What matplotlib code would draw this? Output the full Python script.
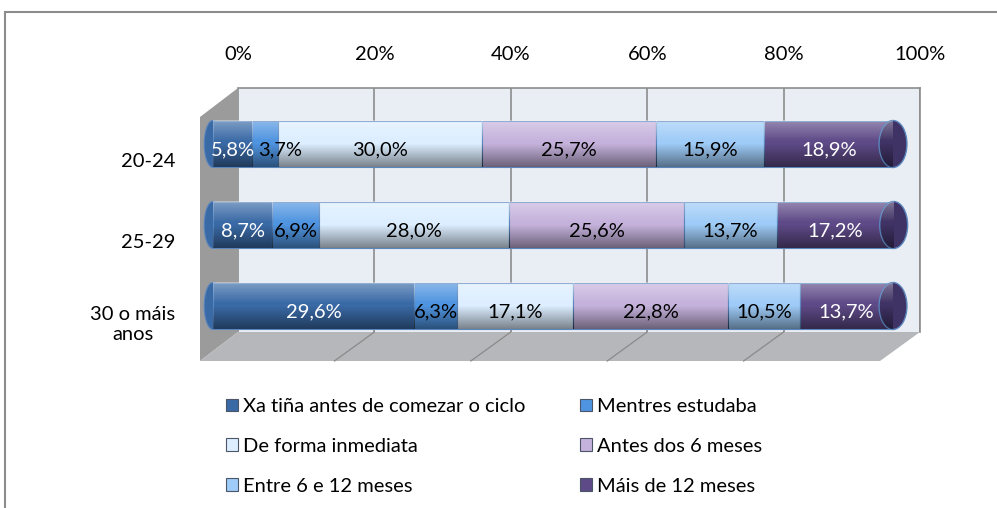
import numpy as np
import matplotlib
matplotlib.use('Agg')
import matplotlib.pyplot as plt
from matplotlib.patches import Ellipse, Polygon, Rectangle, Patch
from matplotlib.lines import Line2D
from matplotlib.transforms import offset_copy, ScaledTranslation, Affine2D

plt.rcParams['font.family'] = ['Lato', 'DejaVu Sans']

groups = ['20-24', '25-29', '30 o máis\nanos']
series = ['Xa tiña antes de comezar o ciclo', 'Mentres estudaba', 'De forma inmediata',
          'Antes dos 6 meses', 'Entre 6 e 12 meses', 'Máis de 12 meses']
xa_tina = [5.8, 8.7, 29.6]
mentres = [3.7, 6.9, 6.3]
inmediata = [30.0, 28.0, 17.1]
antes_6 = [25.7, 25.6, 22.8]
entre_6_12 = [15.9, 13.7, 10.5]
mais_12 = [18.9, 17.2, 13.7]
ticks = [0, 20, 40, 60, 80, 100]

colors = ['#3A6AA6', '#4F94E0', '#DCEEFF', '#C5B2DC', '#9ECBF7', '#5E4A87']
label_colors = ['white', 'black', 'black', 'black', 'black', 'white']
FS = 14.5

W, H = 997, 508
fig = plt.figure(figsize=(W / 100, H / 100), dpi=100)


def fx(x):
    return x / W


def fy(y):
    return 1 - y / H


# outer frame (right and bottom sides fall outside the picture)
fig.add_artist(Rectangle((fx(5), -0.1), 1.2, fy(12) + 0.1, transform=fig.transFigure,
                         fill=False, edgecolor='#8c8c8c', lw=1.5, zorder=0))

# back wall
bg = fig.add_axes([fx(238), fy(332), fx(920) - fx(238), fy(88) - fy(332)], zorder=0.2)
bg.set_xlim(0, 100)
bg.set_ylim(0, 1)
bg.set_facecolor('#E9EDF4')
bg.xaxis.tick_top()
bg.set_xticks(ticks, [f'{t}%' for t in ticks], fontsize=FS)
bg.tick_params(axis='x', length=0, pad=18)
bg.set_yticks([])
bg.grid(axis='x', color='#8c8c8c', lw=1.2)
for s in ['left', 'bottom']:
    bg.spines[s].set_visible(False)
for s in ['top', 'right']:
    bg.spines[s].set_color('#8c8c8c')
    bg.spines[s].set_linewidth(1.2)

# side wall and floor
fig.add_artist(Polygon([(fx(200), fy(117)), (fx(238), fy(88)), (fx(238), fy(332)), (fx(200), fy(361))],
                       transform=fig.transFigure, facecolor='#9B9B9B', edgecolor='none', zorder=0.3))
fig.add_artist(Polygon([(fx(238), fy(332)), (fx(920), fy(332)), (fx(880), fy(361)), (fx(200), fy(361))],
                       transform=fig.transFigure, facecolor='#B5B7BA', edgecolor='none', zorder=0.3))
for t in ticks[1:-1]:
    xb = fx(238) + (fx(920) - fx(238)) * t / 100
    fig.add_artist(Line2D([xb, xb - fx(40)], [fy(332), fy(361)], transform=fig.transFigure,
                          color='#8a8a8a', lw=0.9, zorder=0.35))

# bars
ax = fig.add_axes([fx(213), fy(346.5), fx(893) - fx(213), fy(103.5) - fy(346.5)], zorder=1)
ax.patch.set_alpha(0)
for s in ax.spines.values():
    s.set_visible(False)
ax.set_xticks([])

y = np.arange(len(groups))
bar_h = 0.58

n = 64
tt = np.linspace(0, 1, n)
white = np.clip(0.35 * (1 - tt / 0.45), 0, None)
dark = np.clip(0.45 * (tt - 0.5) / 0.5, 0, None)
grad = np.zeros((n, 1, 4))
grad[:, 0, :3] = np.where(white[:, None] > 0, 1.0, 0.0)
grad[:, 0, 3] = white + dark


def shade(patch, x0, x1, yc):
    ax.imshow(grad, extent=(x0, x1, yc + bar_h / 2, yc - bar_h / 2), aspect='auto',
              clip_path=patch, zorder=patch.get_zorder() + 0.05, interpolation='bilinear')


label_tr = offset_copy(ax.transData, fig=fig, x=0, y=-6, units='dots')
values = [xa_tina, mentres, inmediata, antes_6, entre_6_12, mais_12]
row_texts = [[] for _ in groups]

# rounded left end
for yi in y:
    e = Ellipse((0, yi), 2.6, bar_h, facecolor=colors[0], edgecolor='#5B86BD', lw=0.8, zorder=1.5, clip_on=False)
    ax.add_patch(e)
    shade(e, -1.3, 1.3, yi)

left = np.zeros(len(groups))
for vals, c, tc, name in zip(values, colors, label_colors, series):
    bars = ax.barh(y, vals, left=left, height=bar_h, color=c, edgecolor='#5B86BD', lw=0.8,
                   label=name, zorder=2)
    for rect, yi in zip(bars, y):
        shade(rect, rect.get_x(), rect.get_x() + rect.get_width(), yi)
    for i, (yi, v, l) in enumerate(zip(y, vals, left)):
        row_texts[i].append(ax.text(l + v / 2, yi, f'{v:.1f}%'.replace('.', ','), ha='center', va='center',
                                    color=tc, fontsize=FS, transform=label_tr, zorder=5))
    left += np.array(vals)

# right end caps
for yi, tot in zip(y, left):
    e = Ellipse((tot, yi), 4.1, bar_h, facecolor='#3F3264', edgecolor='#5B86BD', lw=1.0, zorder=3, clip_on=False)
    ax.add_patch(e)
    shade(e, tot - 2.05, tot + 2.05, yi)

ax.set_xlim(0, 100)
ax.set_ylim(2.5, -0.5)
ax.set_yticks(y, groups, fontsize=FS)
ax.tick_params(axis='y', length=0, pad=27)
for lab in ax.get_yticklabels():
    lab.set_multialignment('center')
    lab.set_transform(lab.get_transform() + ScaledTranslation(0, -16 / 100, fig.dpi_scale_trans))

# legend in two columns
handles = [Patch(facecolor=c, edgecolor='#4a5568', lw=0.8) for c in colors]
common = dict(loc='upper left', frameon=False, fontsize=FS, handlelength=0.6, handleheight=0.6,
              handletextpad=0.25, labelspacing=1.13, borderpad=0, borderaxespad=0)
fig.legend(handles[0::2], series[0::2], bbox_to_anchor=(fx(226), fy(398)), **common)
fig.legend(handles[1::2], series[1::2], bbox_to_anchor=(fx(580), fy(398)), **common)

# push small data labels right when they collide with the previous one
fig.canvas.draw()
r = fig.canvas.get_renderer()
for texts in row_texts:
    prev_right = None
    for t in texts:
        bb = t.get_window_extent(r)
        if prev_right is not None and bb.x0 < prev_right + 3:
            t.set_transform(t.get_transform() + Affine2D().translate(prev_right + 3 - bb.x0, 0))
            bb = t.get_window_extent(r)
        prev_right = bb.x1

fig.savefig('out.png', dpi=100)
